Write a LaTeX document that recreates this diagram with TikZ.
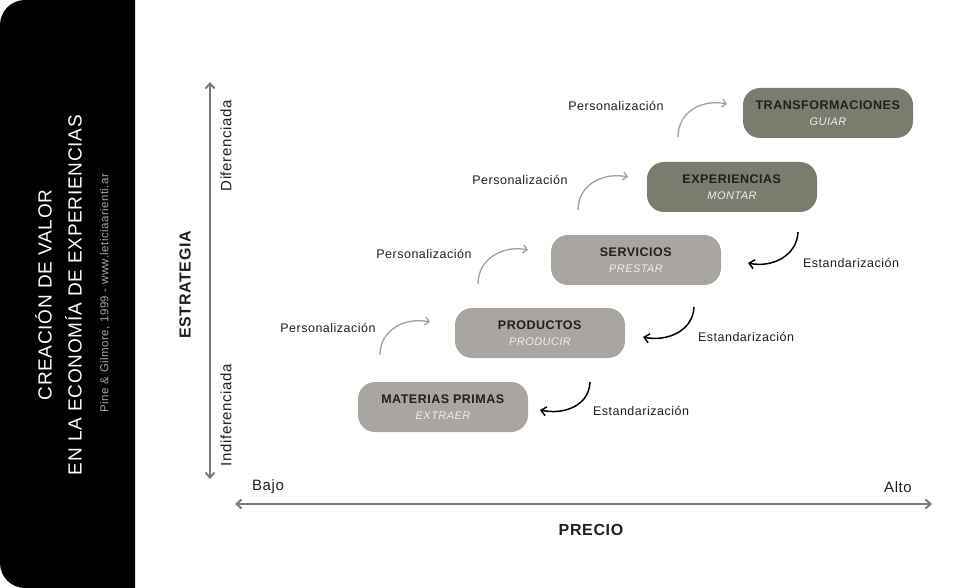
\documentclass[tikz,border=0pt]{standalone}
\usepackage{fontspec}
\setmainfont{Liberation Sans}[LetterSpace=4]
\usetikzlibrary{arrows.meta}

\definecolor{axisgray}{HTML}{7B7B70}
\definecolor{boxlight}{HTML}{A9A5A0}
\definecolor{boxdark}{HTML}{7B7C6D}
\definecolor{persgray}{HTML}{A39F99}
\definecolor{inktext}{HTML}{1F1F1F}
\definecolor{subtext}{HTML}{EEEEEE}
\definecolor{credit}{HTML}{A6A6A6}

\newcommand{\stagelabel}[2]{\textbf{#1}\\[-2pt]{\fontsize{11}{14}\selectfont\itshape\color{subtext}#2}}

\begin{document}
\begin{tikzpicture}[x=1pt, y=-1pt,
    stage/.style={rounded corners=17pt, minimum width=170pt, minimum height=50pt,
        inner sep=0pt, align=center, text=inktext, font=\fontsize{12.5}{18}\selectfont},
    lightstage/.style={stage, fill=boxlight},
    darkstage/.style={stage, fill=boxdark},
    axisline/.style={draw=axisgray, line width=2pt,
        {Straight Barb[length=5pt,width=9pt]}-{Straight Barb[length=5pt,width=9pt]}},
    pers/.style={draw=persgray, line width=1.3pt, -{Straight Barb[length=4pt,width=8pt]}},
    estd/.style={draw=black, line width=1.5pt, -{Straight Barb[length=5pt,width=9pt]}},
    smalltext/.style={text=inktext, font=\fontsize{12.5}{14}\selectfont},
    axistext/.style={text=inktext, font=\fontsize{15}{17}\selectfont},
    axistitle/.style={text=inktext, font=\fontsize{16}{18}\selectfont\bfseries}
]
    \useasboundingbox (0,0) rectangle (980,588);

    % black panel on the left
    \begin{scope}
        \clip (0,0) rectangle (135,588);
        \fill[black, rounded corners=25pt] (0,0) rectangle (180,588);
    \end{scope}
    \node[rotate=90, text=white, align=center, font=\fontsize{19}{30}\selectfont] (title) at (58.5,295)
        {CREACIÓN DE VALOR\\EN LA ECONOMÍA DE EXPERIENCIAS};
    \node[rotate=90, text=credit, font=\fontsize{11.5}{13}\selectfont] (source) at (105,293)
        {Pine \& Gilmore, 1999 - www.leticiaarienti.ar};

    % axes
    \coordinate (ytop) at (210,82);
    \coordinate (ybot) at (210,479);
    \coordinate (xleft) at (235,504);
    \coordinate (xright) at (932,504);
    \draw[axisline] (ybot) -- (ytop);
    \draw[axisline] (xleft) -- (xright);
    \node[axistitle, rotate=90] (strat) at (185,285) {ESTRATEGIA};
    \node[axistext, rotate=90] (dif) at (226,146) {Diferenciada};
    \node[axistext, rotate=90] (indif) at (226,415) {Indiferenciada};
    \node[axistext] (low) at (268,487) {Bajo};
    \node[axistext] (high) at (898,487) {Alto};
    \node[axistitle] (price) at (591,530) {PRECIO};

    % stages
    \node[lightstage] (mat) at (443,407) {\stagelabel{MATERIAS PRIMAS}{EXTRAER}};
    \node[lightstage] (prod) at (540,333) {\stagelabel{PRODUCTOS}{PRODUCIR}};
    \node[lightstage] (serv) at (636,260) {\stagelabel{SERVICIOS}{PRESTAR}};
    \node[darkstage] (exp) at (732,187) {\stagelabel{EXPERIENCIAS}{MONTAR}};
    \node[darkstage] (trans) at (828,113) {\stagelabel{TRANSFORMACIONES}{GUIAR}};

    % personalizacion
    \coordinate (p1s) at (380,355);
    \coordinate (p1e) at (430,322);
    \coordinate (p2s) at (478,284);
    \coordinate (p2e) at (528,250);
    \coordinate (p3s) at (578,210);
    \coordinate (p3e) at (628,177);
    \coordinate (p4s) at (678,137);
    \coordinate (p4e) at (727,104);
    \draw[pers] (p1s) .. controls +(0,-26) and +(-24,-5) .. (p1e);
    \draw[pers] (p2s) .. controls +(0,-26) and +(-24,-5) .. (p2e);
    \draw[pers] (p3s) .. controls +(0,-26) and +(-24,-5) .. (p3e);
    \draw[pers] (p4s) .. controls +(0,-26) and +(-24,-5) .. (p4e);
    \node[smalltext] (pl1) at (328,328) {Personalización};
    \node[smalltext] (pl2) at (424,254) {Personalización};
    \node[smalltext] (pl3) at (520,180) {Personalización};
    \node[smalltext] (pl4) at (616,106) {Personalización};

    % estandarizacion
    \coordinate (e1s) at (590,382);
    \coordinate (e1e) at (540,410);
    \coordinate (e2s) at (694,307);
    \coordinate (e2e) at (643,337);
    \coordinate (e3s) at (798,232);
    \coordinate (e3e) at (748,263);
    \draw[estd] (e1s) .. controls +(-1,24) and +(24,5) .. (e1e);
    \draw[estd] (e2s) .. controls +(-1,24) and +(24,5) .. (e2e);
    \draw[estd] (e3s) .. controls +(-1,24) and +(24,5) .. (e3e);
    \node[smalltext] (el1) at (641,411) {Estandarización};
    \node[smalltext] (el2) at (746,337) {Estandarización};
    \node[smalltext] (el3) at (851,263) {Estandarización};
\end{tikzpicture}
\end{document}
